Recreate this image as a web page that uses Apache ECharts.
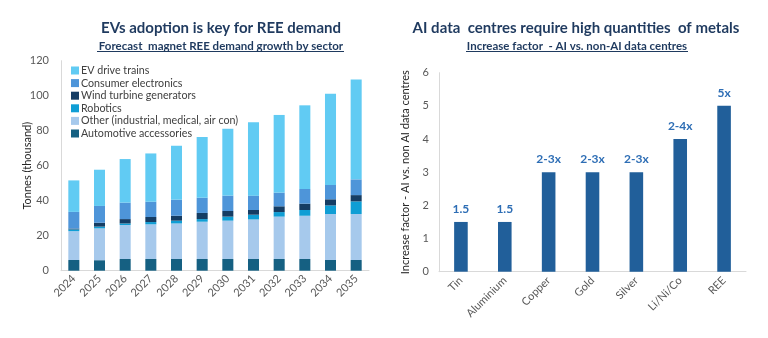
<!DOCTYPE html>
<html><head><meta charset="utf-8">
<script src="https://cdn.jsdelivr.net/npm/echarts@6/dist/echarts.min.js"></script>
<style>html,body{margin:0;padding:0;background:#fff}#c{width:768px;height:338px}</style>
</head><body><div id="c"></div>
<script>
const years = ['2024','2025','2026','2027','2028','2029','2030','2031','2032','2033','2034','2035'];
const automotive = [6.1, 6.0, 6.7, 6.7, 6.7, 6.7, 6.7, 6.7, 6.7, 6.7, 6.1, 6.1];
const other      = [16.5, 18.2, 19.4, 19.8, 20.3, 21.3, 21.9, 22.6, 24.2, 24.7, 26.3, 26.3];
const robotics   = [1.0, 1.0, 0.9, 1.3, 1.6, 1.5, 2.3, 2.7, 2.6, 3.3, 4.9, 7.2];
const wind       = [0.5, 2.2, 2.5, 2.9, 2.8, 3.5, 3.2, 2.7, 3.3, 3.6, 3.5, 3.6];
const consumer   = [9.5, 9.6, 9.4, 8.7, 9.2, 8.7, 8.8, 8.2, 7.8, 8.4, 8.2, 9.0];
const evDrive    = [18.0, 20.7, 24.9, 27.6, 30.8, 34.7, 38.2, 41.9, 44.4, 47.8, 52.1, 57.1];
const leftTicks  = [0, 20, 40, 60, 80, 100, 120];

const metals = ['Tin','Aluminium','Copper','Gold','Silver','Li/Ni/Co','REE'];
const factors = [1.5, 1.5, 3, 3, 3, 4, 5];
const factorLabels = ['1.5','1.5','2-3x','2-3x','2-3x','2-4x','5x'];
const rightTicks = [0, 1, 2, 3, 4, 5, 6];

const FONT = 'Lato';
const chart = echarts.init(document.getElementById('c'));
const stackNames = [
  ['Automotive accessories', automotive, '#156082'],
  ['Other (industrial, medical, air con)', other, '#A6C9EC'],
  ['Robotics', robotics, '#0F9ED5'],
  ['Wind turbine generators', wind, '#153D64'],
  ['Consumer electronics', consumer, '#4E95D9'],
  ['EV drive trains', evDrive, '#61CBF3']
];
const series = stackNames.map(([n, d, c]) => ({
  name: n, type: 'bar', stack: 'a', xAxisIndex: 0, yAxisIndex: 0,
  data: d, barWidth: '43%', itemStyle: { color: c }
}));
series.push({
  name: 'factor', type: 'bar', xAxisIndex: 1, yAxisIndex: 1, data: factors,
  barWidth: '31%', itemStyle: { color: '#215F9A' },
  label: { show: true, position: 'top', distance: 7, color: '#2E6EB5', fontWeight: 'bold',
           fontSize: 12, fontFamily: FONT, formatter: p => factorLabels[p.dataIndex] }
});
const titleColor = '#1F3A5F';
chart.setOption({
  animation: false,
  textStyle: { fontFamily: FONT },
  title: [
    { text: 'EVs adoption is key for REE demand', left: 216, top: 16, textAlign: 'center',
      textStyle: { fontSize: 15, fontWeight: 'bold', color: titleColor, fontFamily: FONT } },
    { text: 'Forecast  magnet REE demand growth by sector', left: 216, top: 35, textAlign: 'center',
      textStyle: { fontSize: 11.5, fontWeight: 'bold', color: titleColor, fontFamily: FONT } },
    { text: 'AI data  centres require high quantities  of metals', left: 571, top: 16, textAlign: 'center',
      textStyle: { fontSize: 15, fontWeight: 'bold', color: titleColor, fontFamily: FONT } },
    { text: 'Increase factor  - AI vs. non-AI data centres', left: 572, top: 35, textAlign: 'center',
      textStyle: { fontSize: 11.5, fontWeight: 'bold', color: titleColor, fontFamily: FONT } }
  ],
  graphic: [
    { type: 'line', shape: { x1: 97, y1: 51.5, x2: 344, y2: 51.5 }, style: { stroke: titleColor, lineWidth: 1 } },
    { type: 'line', shape: { x1: 466, y1: 51.5, x2: 688, y2: 51.5 }, style: { stroke: titleColor, lineWidth: 1 } }
  ],
  legend: {
    data: stackNames.map(s => s[0]).reverse(),
    orient: 'vertical', left: 66, top: 60, itemWidth: 8, itemHeight: 8, itemGap: 1.6,
    icon: 'rect',
    textStyle: { fontSize: 10.7, color: '#404040', fontFamily: FONT, padding: [0,0,0,-3] }
  },
  grid: [
    { left: 61, right: 399, top: 60.7, bottom: 67.3 },
    { left: 439, right: 22, top: 72.7, bottom: 66.3 }
  ],
  xAxis: [
    { type: 'category', gridIndex: 0, data: years,
      axisLine: { lineStyle: { color: '#D9D9D9' } }, axisTick: { show: false },
      axisLabel: { rotate: 45, fontSize: 11, color: '#595959', margin: 6, fontFamily: FONT } },
    { type: 'category', gridIndex: 1, data: metals,
      axisLine: { lineStyle: { color: '#D9D9D9' } }, axisTick: { show: false },
      axisLabel: { rotate: 45, fontSize: 11, color: '#595959', margin: 7, fontFamily: FONT } }
  ],
  yAxis: [
    { type: 'value', gridIndex: 0, min: leftTicks[0], max: leftTicks[leftTicks.length-1], interval: 20,
      name: 'Tonnes (thousand)', nameLocation: 'middle', nameGap: 28, nameMoveOverlap: false,
      nameTextStyle: { fontSize: 11, color: '#262626', fontFamily: FONT },
      axisLine: { show: true, lineStyle: { color: '#D9D9D9' } }, axisTick: { show: false }, splitLine: { show: false },
      axisLabel: { fontSize: 11, color: '#595959', margin: 12, fontFamily: FONT } },
    { type: 'value', gridIndex: 1, min: rightTicks[0], max: rightTicks[rightTicks.length-1], interval: 1,
      name: 'Increase factor - AI vs. non AI data centres', nameLocation: 'middle', nameGap: 28,
      nameTextStyle: { fontSize: 11, color: '#262626', fontFamily: FONT },
      axisLine: { show: true, lineStyle: { color: '#D9D9D9' } }, axisTick: { show: false }, splitLine: { show: false },
      axisLabel: { fontSize: 11, color: '#595959', margin: 10, fontFamily: FONT } }
  ],
  series: series
});
</script></body></html>
